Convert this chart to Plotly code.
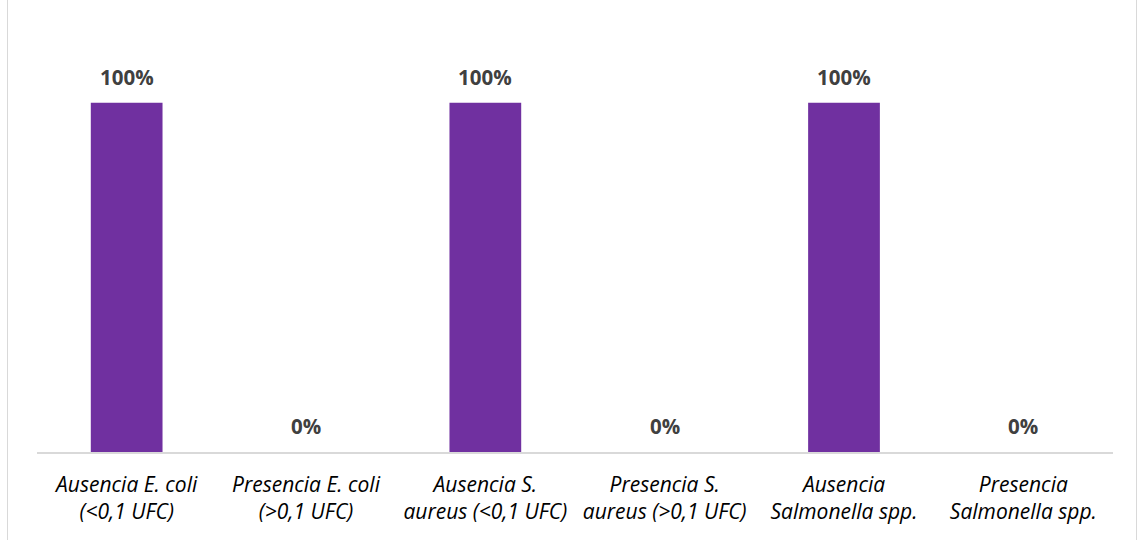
import plotly.graph_objects as go

categories = [
    "Ausencia E. coli (<0,1 UFC)",
    "Presencia E. coli (>0,1 UFC)",
    "Ausencia S. aureus (<0,1 UFC)",
    "Presencia S. aureus (>0,1 UFC)",
    "Ausencia Salmonella spp.",
    "Presencia Salmonella spp.",
]
tick_labels = [
    "Ausencia E. coli<br>(&lt;0,1 UFC)",
    "Presencia E. coli<br>(&gt;0,1 UFC)",
    "Ausencia S.<br>aureus (&lt;0,1 UFC)",
    "Presencia S.<br>aureus (&gt;0,1 UFC)",
    "Ausencia<br>Salmonella spp.",
    "Presencia<br>Salmonella spp.",
]
percentages = [100, 0, 100, 0, 100, 0]

W, H = 1137, 540
L, R, T, B = 37, 24, 33, 88
FONT = "Open Sans, sans-serif"

fig = go.Figure()
fig.add_trace(go.Bar(
    x=categories,
    y=percentages,
    marker=dict(color="#7030A0", line=dict(width=0)),
    hoverinfo="x+y",
))

for cat, val in zip(categories, percentages):
    fig.add_annotation(
        x=cat, y=val, text=f"<b>{val}%</b>",
        showarrow=False, yanchor="bottom", yshift=10,
        font=dict(family=FONT, size=20.5, color="#404040"),
    )

pw, ph = W - L - R, H - T - B
fig.add_shape(
    type="rect", xref="paper", yref="paper",
    x0=(7.5 - L) / pw, x1=(W - 0.5 - L) / pw,
    y0=-(H - 0.5 - T - ph) / ph - 0.01, y1=(H - T - 4.5) / ph,
    line=dict(color="#D9D9D9", width=1), fillcolor="rgba(0,0,0,0)",
    layer="below",
)

fig.update_layout(
    width=W, height=H,
    margin=dict(l=L, r=R, t=T, b=B),
    paper_bgcolor="white", plot_bgcolor="white",
    bargap=0.6,
    showlegend=False,
    xaxis=dict(
        tickvals=categories, ticktext=tick_labels,
        tickfont=dict(family=FONT, size=21, color="#000000", style="italic"),
        showline=True, linecolor="#D9D9D9", linewidth=1.5,
        ticks="", ticklabelstandoff=13,
        showgrid=False,
    ),
    yaxis=dict(range=[0, 120], visible=False, showgrid=False, zeroline=False),
)

fig.write_html("out.html")
